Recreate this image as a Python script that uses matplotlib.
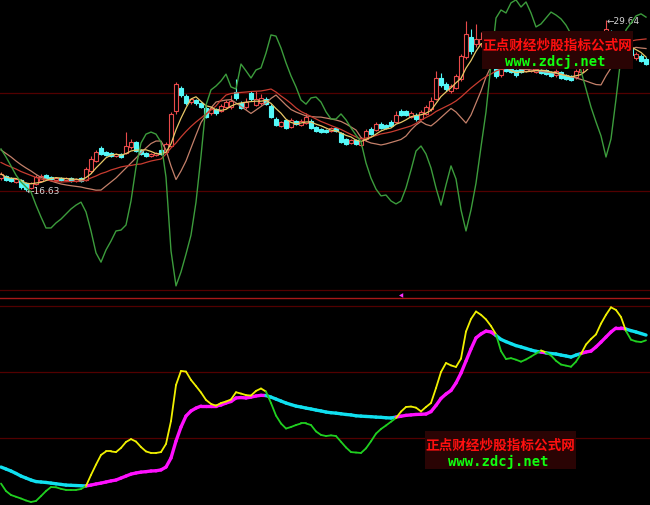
import numpy as np
import pandas as pd
import matplotlib
matplotlib.use("Agg")
import matplotlib.pyplot as plt
from matplotlib.collections import LineCollection
from matplotlib.patches import Rectangle

# daily candles
opens = [17.62, 17.77, 17.62, 17.31, 17.47, 17.24, 16.86, 17.16, 17.39, 17.85,
         17.69, 17.47, 17.62, 17.47, 17.62, 17.39, 17.62, 17.47, 18.15, 18.91,
         19.90, 19.60, 19.52, 19.29, 19.44, 19.52, 19.98, 20.36, 19.75, 19.52,
         19.29, 19.37, 19.75, 19.60, 20.05, 22.72, 24.47, 23.86, 23.40, 23.55,
         23.33, 22.95, 22.57, 22.87, 22.72, 23.02, 23.02, 24.16, 23.33, 23.02,
         24.09, 23.17, 23.33, 23.63, 23.10, 22.11, 21.58, 22.03, 21.50, 21.96,
         21.65, 21.80, 21.96, 21.50, 21.35, 21.27, 21.20, 21.42, 21.04, 20.59,
         20.28, 20.51, 20.13, 20.59, 21.35, 21.27, 21.73, 21.65, 21.88, 21.88,
         22.72, 22.72, 22.26, 22.41, 22.11, 22.49, 22.87, 23.63, 25.23, 24.77,
         24.24, 24.47, 25.15, 26.83, 28.35, 27.82, 27.82, 27.82, 27.05, 26.07,
         25.46, 25.91, 25.91, 25.84, 25.91, 25.76, 25.76, 25.68, 25.84, 25.84,
         25.68, 25.46, 25.68, 25.46, 25.38, 25.30, 25.68, 26.22, 26.52, 26.98,
         27.59, 28.20, 28.73, 28.20, 27.66, 27.82, 27.44, 26.75, 26.90, 26.67]
highs = [18.07, 17.85, 17.69, 17.62, 17.54, 17.31, 17.31, 17.85, 17.92, 17.92,
         17.77, 17.69, 17.69, 17.69, 17.69, 17.62, 17.69, 18.46, 19.29, 19.75,
         20.05, 19.67, 19.60, 19.52, 19.52, 21.12, 20.59, 20.43, 19.83, 19.60,
         19.52, 19.60, 19.83, 20.36, 22.64, 24.92, 24.62, 24.01, 23.71, 23.63,
         23.40, 23.10, 23.02, 22.95, 23.25, 23.55, 23.93, 25.15, 23.48, 23.71,
         24.24, 24.24, 24.01, 23.78, 23.25, 22.26, 21.96, 22.11, 22.18, 22.03,
         22.11, 22.57, 22.11, 21.58, 21.42, 21.35, 21.50, 21.50, 21.12, 20.66,
         20.59, 20.59, 20.74, 21.35, 21.50, 21.88, 21.88, 21.73, 22.03, 22.72,
         22.87, 22.79, 22.72, 22.57, 22.79, 23.17, 23.78, 25.76, 25.61, 24.92,
         24.77, 25.53, 27.05, 29.57, 28.96, 29.34, 28.73, 28.04, 27.21, 26.22,
         26.07, 25.99, 25.99, 25.91, 25.99, 25.99, 26.07, 25.99, 25.91, 25.91,
         25.76, 25.91, 25.76, 25.53, 25.46, 25.91, 26.37, 26.83, 27.28, 27.74,
         28.35, 29.64, 28.88, 28.35, 28.20, 27.97, 27.59, 27.21, 27.05, 26.83]
lows = [17.47, 17.39, 17.31, 17.24, 16.78, 16.63, 16.78, 17.09, 17.31, 17.54,
        17.47, 17.39, 17.39, 17.39, 17.31, 17.31, 17.31, 17.39, 18.00, 18.84,
        19.37, 19.29, 19.22, 19.22, 19.14, 19.44, 19.83, 19.60, 19.37, 19.22,
        19.22, 19.29, 19.37, 19.52, 19.98, 22.49, 23.78, 23.17, 23.25, 23.17,
        22.95, 22.18, 22.41, 22.41, 22.64, 22.95, 22.87, 23.55, 22.87, 22.87,
        23.48, 23.10, 23.17, 23.17, 22.18, 21.58, 21.50, 21.35, 21.42, 21.65,
        21.58, 21.73, 21.35, 21.12, 21.04, 21.04, 21.12, 21.12, 20.28, 20.13,
        20.21, 20.13, 20.05, 20.43, 20.89, 21.20, 21.35, 21.35, 21.50, 21.80,
        22.34, 22.34, 22.18, 21.96, 22.03, 22.41, 22.72, 23.55, 24.54, 24.24,
        24.09, 24.39, 25.00, 26.67, 27.05, 27.59, 27.59, 27.05, 26.07, 25.23,
        25.30, 25.68, 25.61, 25.30, 25.61, 25.68, 25.68, 25.61, 25.53, 25.46,
        25.30, 25.30, 25.15, 25.08, 25.00, 25.15, 25.53, 26.07, 26.45, 26.83,
        27.44, 28.04, 27.89, 27.44, 27.51, 27.13, 26.83, 26.60, 26.45, 26.22]
closes = [17.92, 17.47, 17.39, 17.54, 16.93, 16.78, 17.24, 17.69, 17.77, 17.62,
          17.54, 17.62, 17.47, 17.62, 17.39, 17.54, 17.39, 18.30, 19.06, 19.60,
          19.44, 19.37, 19.29, 19.44, 19.22, 20.05, 20.36, 19.67, 19.44, 19.29,
          19.44, 19.52, 19.44, 20.21, 22.49, 24.77, 23.93, 23.33, 23.63, 23.33,
          23.02, 22.26, 22.87, 22.57, 23.10, 23.40, 23.48, 23.71, 22.95, 23.40,
          23.63, 23.63, 23.71, 23.25, 22.26, 21.65, 21.88, 21.42, 22.03, 21.73,
          21.96, 22.26, 21.42, 21.20, 21.12, 21.12, 21.42, 21.20, 20.36, 20.21,
          20.51, 20.21, 20.66, 21.20, 20.97, 21.73, 21.42, 21.42, 21.58, 22.41,
          22.41, 22.41, 22.57, 22.11, 22.64, 23.02, 23.48, 25.23, 24.70, 24.39,
          24.62, 25.38, 26.90, 28.58, 27.28, 28.20, 28.20, 27.28, 26.22, 25.38,
          25.91, 25.76, 25.68, 25.46, 25.68, 25.91, 25.99, 25.91, 25.61, 25.53,
          25.38, 25.76, 25.23, 25.15, 25.08, 25.76, 26.22, 26.67, 27.05, 27.59,
          28.20, 28.96, 28.04, 27.59, 28.04, 27.28, 26.98, 27.05, 26.52, 26.29]

# overlay lines on the price panel
line_red = [18.80, 18.61, 18.46, 18.30, 18.11, 17.96, 17.81, 17.66, 17.54, 17.47,
            17.41, 17.35, 17.31, 17.33, 17.35, 17.37, 17.39, 17.43, 17.62, 17.77,
            17.95, 18.07, 18.23, 18.34, 18.46, 18.53, 18.57, 18.65, 18.68, 18.80,
            18.91, 18.99, 19.06, 19.44, 19.90, 20.28, 20.74, 21.16, 21.54, 21.88,
            22.18, 22.49, 22.79, 23.10, 23.55, 23.93, 24.05, 24.09, 24.13, 24.16,
            24.20, 24.22, 24.24, 24.31, 24.39, 24.16, 23.86, 23.59, 23.29, 22.95,
            22.68, 22.49, 22.30, 22.11, 21.92, 21.77, 21.61, 21.46, 21.31, 21.12,
            20.93, 20.74, 20.59, 20.66, 20.74, 20.85, 20.97, 21.04, 21.12, 21.23,
            21.35, 21.46, 21.58, 21.77, 22.03, 22.22, 22.41, 22.68, 22.87, 23.06,
            23.25, 23.48, 23.78, 24.13, 24.47, 24.77, 25.08, 25.34, 25.53, 25.76,
            25.91, 25.95, 25.99, 26.03, 26.07, 26.08, 26.10, 26.13, 26.14, 26.13,
            26.10, 26.08, 26.07, 26.14, 26.19, 26.26, 26.37, 26.56, 26.75, 26.94,
            27.09, 27.28, 27.47, 27.66, 27.82, 27.93, 28.04, 28.12, 28.16, 28.20]
line_tan = [19.75, 19.48, 19.22, 18.91, 18.63, 18.38, 18.15, 17.89, 17.66, 17.54,
            17.39, 17.27, 17.16, 17.09, 17.03, 16.98, 16.93, 16.84, 16.77, 16.69,
            16.70, 17.01, 17.31, 17.62, 18.00, 18.38, 18.76, 19.14, 19.52, 19.90,
            20.24, 20.43, 20.43, 19.75, 18.53, 17.50, 18.15, 18.91, 19.90, 20.89,
            21.84, 22.41, 22.95, 23.40, 23.48, 23.55, 23.58, 23.33, 23.06, 22.79,
            22.53, 22.79, 23.06, 23.33, 23.67, 23.93, 23.55, 23.17, 22.83, 22.64,
            22.49, 22.34, 22.30, 22.26, 22.25, 22.18, 22.11, 22.03, 21.92, 21.73,
            21.50, 21.27, 20.70, 20.43, 20.28, 20.21, 20.13, 20.21, 20.32, 20.43,
            20.55, 20.81, 21.27, 21.65, 21.92, 21.69, 21.58, 21.88, 22.22, 22.57,
            22.91, 22.64, 22.22, 21.80, 22.41, 23.33, 24.24, 25.30, 26.10, 26.22,
            26.29, 26.18, 26.08, 25.99, 25.91, 25.88, 25.84, 25.79, 25.75, 25.68,
            25.64, 25.58, 25.52, 25.42, 25.32, 25.23, 25.12, 25.00, 24.86, 24.73,
            24.70, 25.40, 25.99, 26.37, 26.72, 27.09, 27.44, 27.56, 27.51, 27.47]
# oscillator drawn over the price panel (0-100 scale)
osc_top = [49.5, 46.8, 43.8, 40.7, 38.4, 36.7, 35, 30.6, 26.6, 22.9,
           22.9, 24.6, 25.9, 27.6, 29.3, 30.6, 31.6, 28.3, 21.9, 14.5,
           11.4, 15.5, 18.5, 21.9, 22.2, 23.9, 32, 43.4, 51.5, 54.5,
           55.2, 54.5, 51.8, 40, 15.2, 3.4, 8.1, 14.1, 20.5, 31.6,
           47.1, 64.3, 69.4, 70.7, 72.4, 74.7, 70.4, 69.7, 78.1, 75.8,
           73.4, 76.1, 76.8, 81.8, 87.9, 87.5, 83.5, 78.5, 74.1, 70.4,
           66, 64.6, 66.7, 67, 65.3, 62, 59.6, 59.6, 61.3, 59.3,
           56.6, 54.2, 51.9, 44.8, 39.7, 36, 33.7, 34, 32, 31,
           32, 36.4, 42.4, 48.8, 50.5, 47.8, 43.1, 36.4, 30.6, 37.4,
           43.8, 39.4, 29, 21.9, 29, 38, 50.2, 62, 78.1, 93.6,
           96.3, 95.3, 98.7, 99.7, 97.3, 99, 95.3, 90.6, 91.6, 93.6,
           95.6, 94.6, 93.3, 91.2, 88.2, 82.5, 75.8, 69.7, 63.6, 58.6,
           53.9, 46.8, 52.9, 66.3, 80.5, 89.6, 91.9, 94.3, 95, 93.9]

# lower indicator panel
fast = [-0.7, -4.1, -5.9, -6.7, -7.5, -8.4, -9.1, -8.6, -6.4, -4.1,
        -2.3, -2.4, -3.1, -3.6, -3.6, -3.6, -3.2, -1.8, 3.2, 7.9,
        12.3, 13.9, 13.9, 13.6, 15.5, 18.2, 19.5, 18.4, 15.9, 13.9,
        13.2, 13.2, 13.6, 17.3, 27.7, 44.1, 50.5, 50.2, 46.4, 43.6,
        40.7, 37.3, 35.5, 34.7, 35.9, 36.6, 37.5, 40.8, 40.2, 39.5,
        39.3, 41.4, 42.5, 41.1, 35.9, 30.2, 26.6, 24.3, 25, 25.9,
        26.6, 26.6, 25.9, 23, 21.4, 20.9, 21.2, 20.9, 18.3, 15.7,
        13.6, 13.4, 13.2, 15.3, 18.5, 22, 24.1, 25.7, 27.4, 29.1,
        32, 34.1, 34.3, 33.8, 32.1, 34.1, 35.9, 42.7, 50, 54.1,
        53, 52.3, 56.1, 68.4, 74.1, 77.5, 76, 73.9, 70.9, 67.1,
        59.5, 55.9, 56.3, 55.6, 54.7, 55.7, 57, 58.4, 59.8, 58.9,
        57.5, 55.1, 53.4, 52.9, 52.4, 54.7, 58.2, 62.5, 65, 67.1,
        72, 76, 79.4, 78.2, 75, 68.6, 64.7, 63.9, 63.6, 64.4]
slow = [6.8, 5.9, 5.0, 3.9, 2.7, 1.8, 0.9, 0.2, 0.0, -0.2,
        -0.5, -0.8, -1.1, -1.4, -1.5, -1.6, -1.7, -1.8, -1.4, -0.9,
        -0.5, 0.0, 0.5, 0.9, 1.8, 2.7, 3.6, 4.1, 4.5, 4.7,
        5.0, 5.1, 5.5, 6.8, 10.9, 18.6, 25, 30, 32.3, 33.6,
        34.5, 34.5, 34.5, 34.5, 35, 35.9, 36.6, 38.2, 38.4, 38.2,
        38.6, 39.1, 39.4, 39.3, 38.6, 37.7, 36.8, 35.9, 35.2, 34.5,
        34.1, 33.6, 33.2, 32.7, 32.3, 31.8, 31.5, 31.3, 31.0, 30.7,
        30.5, 30.1, 29.95, 29.8, 29.7, 29.5, 29.4, 29.2, 29.1, 29.5,
        29.9, 30.3, 30.5, 30.7, 30.8, 30.9, 32, 34.8, 38, 40,
        41.6, 45, 49.5, 55, 60.5, 65.5, 67.3, 68.6, 68.2, 66.6,
        64.8, 63.8, 62.9, 62, 61.4, 60.7, 60, 59.4, 59.1, 58.7,
        58.4, 58.2, 57.7, 57.3, 56.8, 57.7, 58.4, 59.1, 59.5, 61.4,
        63.6, 65.9, 68.2, 70, 70, 69.5, 68.8, 68.2, 67.5, 66.8]

site_cn = "正点财经炒股指标公式网"
site_url = "www.zdcj.net"

UP = '#e84a4a'
DOWN = '#54f8f8'
GRID = '#520000'

o = np.array(opens); h = np.array(highs); l = np.array(lows); c = np.array(closes)
x = np.arange(len(c))
ma5 = pd.Series(c).rolling(5, min_periods=1).mean()

fig = plt.figure(figsize=(6.5, 5.06), dpi=100, facecolor='black')
ax = fig.add_axes([0, 208 / 506, 1, 298 / 506])
axo = ax.twinx()
axb = fig.add_axes([0, 0, 1, 207 / 506])
for a in (ax, axo, axb):
    a.set_facecolor('black')
    a.set_xticks([])
    a.set_yticks([])
    for s in a.spines.values():
        s.set_visible(False)
    a.set_xlim(-0.2, 129.8)
axo.patch.set_visible(False)
ax.set_ylim(8.56, 31.24)
axo.set_ylim(-0.34, 100)
axb.set_ylim(-10.45, 83.64)
axb.spines['top'].set_visible(True)
axb.spines['top'].set_color('#a81818')
axb.spines['top'].set_linewidth(1.0)

for lvl in (24.09, 16.63, 9.09):
    ax.axhline(lvl, color=GRID, lw=0.9, zorder=0)
for lvl in (80, 50, 20):
    axb.axhline(lvl, color=GRID, lw=0.9, zorder=0)

# candles
up = c >= o
body_lo = np.minimum(o, c)
body_hi = np.maximum(o, c)
cols = np.where(up, UP, DOWN)
ax.vlines(x, body_hi, h, colors=cols, lw=0.8, zorder=3)
ax.vlines(x, l, body_lo, colors=cols, lw=0.8, zorder=3)
ax.bar(x[up], (body_hi - body_lo)[up], bottom=body_lo[up], width=0.8,
       facecolor='black', edgecolor=UP, lw=0.8, zorder=4)
ax.bar(x[~up], (body_hi - body_lo)[~up], bottom=body_lo[~up], width=0.8,
       facecolor=DOWN, edgecolor=DOWN, lw=0.8, zorder=4)

ax.plot(x, line_tan, color='#c4806a', lw=0.9, zorder=5)
ax.plot(x, line_red, color='#c83c30', lw=0.9, zorder=5)
ax.plot(x, ma5, color='#e8c868', lw=0.9, zorder=5)
axo.plot(x, osc_top, color='#3c9c3c', lw=1.0, zorder=2)

lo_i = int(np.argmin(l))
hi_i = int(np.argmax(h))
ax.text(lo_i + 0.2, l[lo_i], f"\u2190{l[lo_i]:.2f}", color='#d8d8d8',
        fontsize=6.5, ha='left', va='center', zorder=6)
ax.text(hi_i + 0.1, h[hi_i], f"\u2190{h[hi_i]:.2f}", color='#d8d8d8',
        fontsize=6.5, ha='left', va='center', zorder=6)


def two_tone(axis, ys, above, c_above, c_below, lw, z):
    pts = np.column_stack([x, ys])
    segs = np.stack([pts[:-1], pts[1:]], axis=1)
    colors = [c_above if k else c_below for k in above]
    axis.add_collection(LineCollection(segs, colors=colors, linewidths=lw,
                                       capstyle='round', zorder=z))


f = np.array(fast); s = np.array(slow)
above = (f[:-1] + f[1:]) > (s[:-1] + s[1:])
two_tone(axb, s, above, '#ff10ff', '#10e0f0', 2.4, 3)
two_tone(axb, f, above, '#f0f000', '#20d020', 1.3, 4)

fig.text(401 / 650, 1 - 296 / 506, "\u25c0", color='#ff30ff', fontsize=4,
         ha='center', va='center')

# site watermarks
for bx, by, cx, cy, uy in ((482, 32, 557, 46, 62), (425, 432, 500, 446, 462)):
    fig.patches.append(Rectangle((bx / 650, 1 - (by + 38) / 506), 151 / 650, 38 / 506,
                                 transform=fig.transFigure, facecolor='#2a0404',
                                 edgecolor='none', zorder=10))
    fig.text(cx / 650, 1 - cy / 506, site_cn, color='#ff1010', fontsize=9.8,
             fontweight='bold', family=['Noto Sans CJK SC', 'DejaVu Sans'],
             ha='center', va='center', zorder=11)
    fig.text((cx - 2) / 650, 1 - uy / 506, site_url, color='#10ff10', fontsize=10,
             fontweight='bold', family='DejaVu Sans Mono',
             ha='center', va='center', zorder=11)

fig.savefig('out.png', dpi=100, facecolor='black')
